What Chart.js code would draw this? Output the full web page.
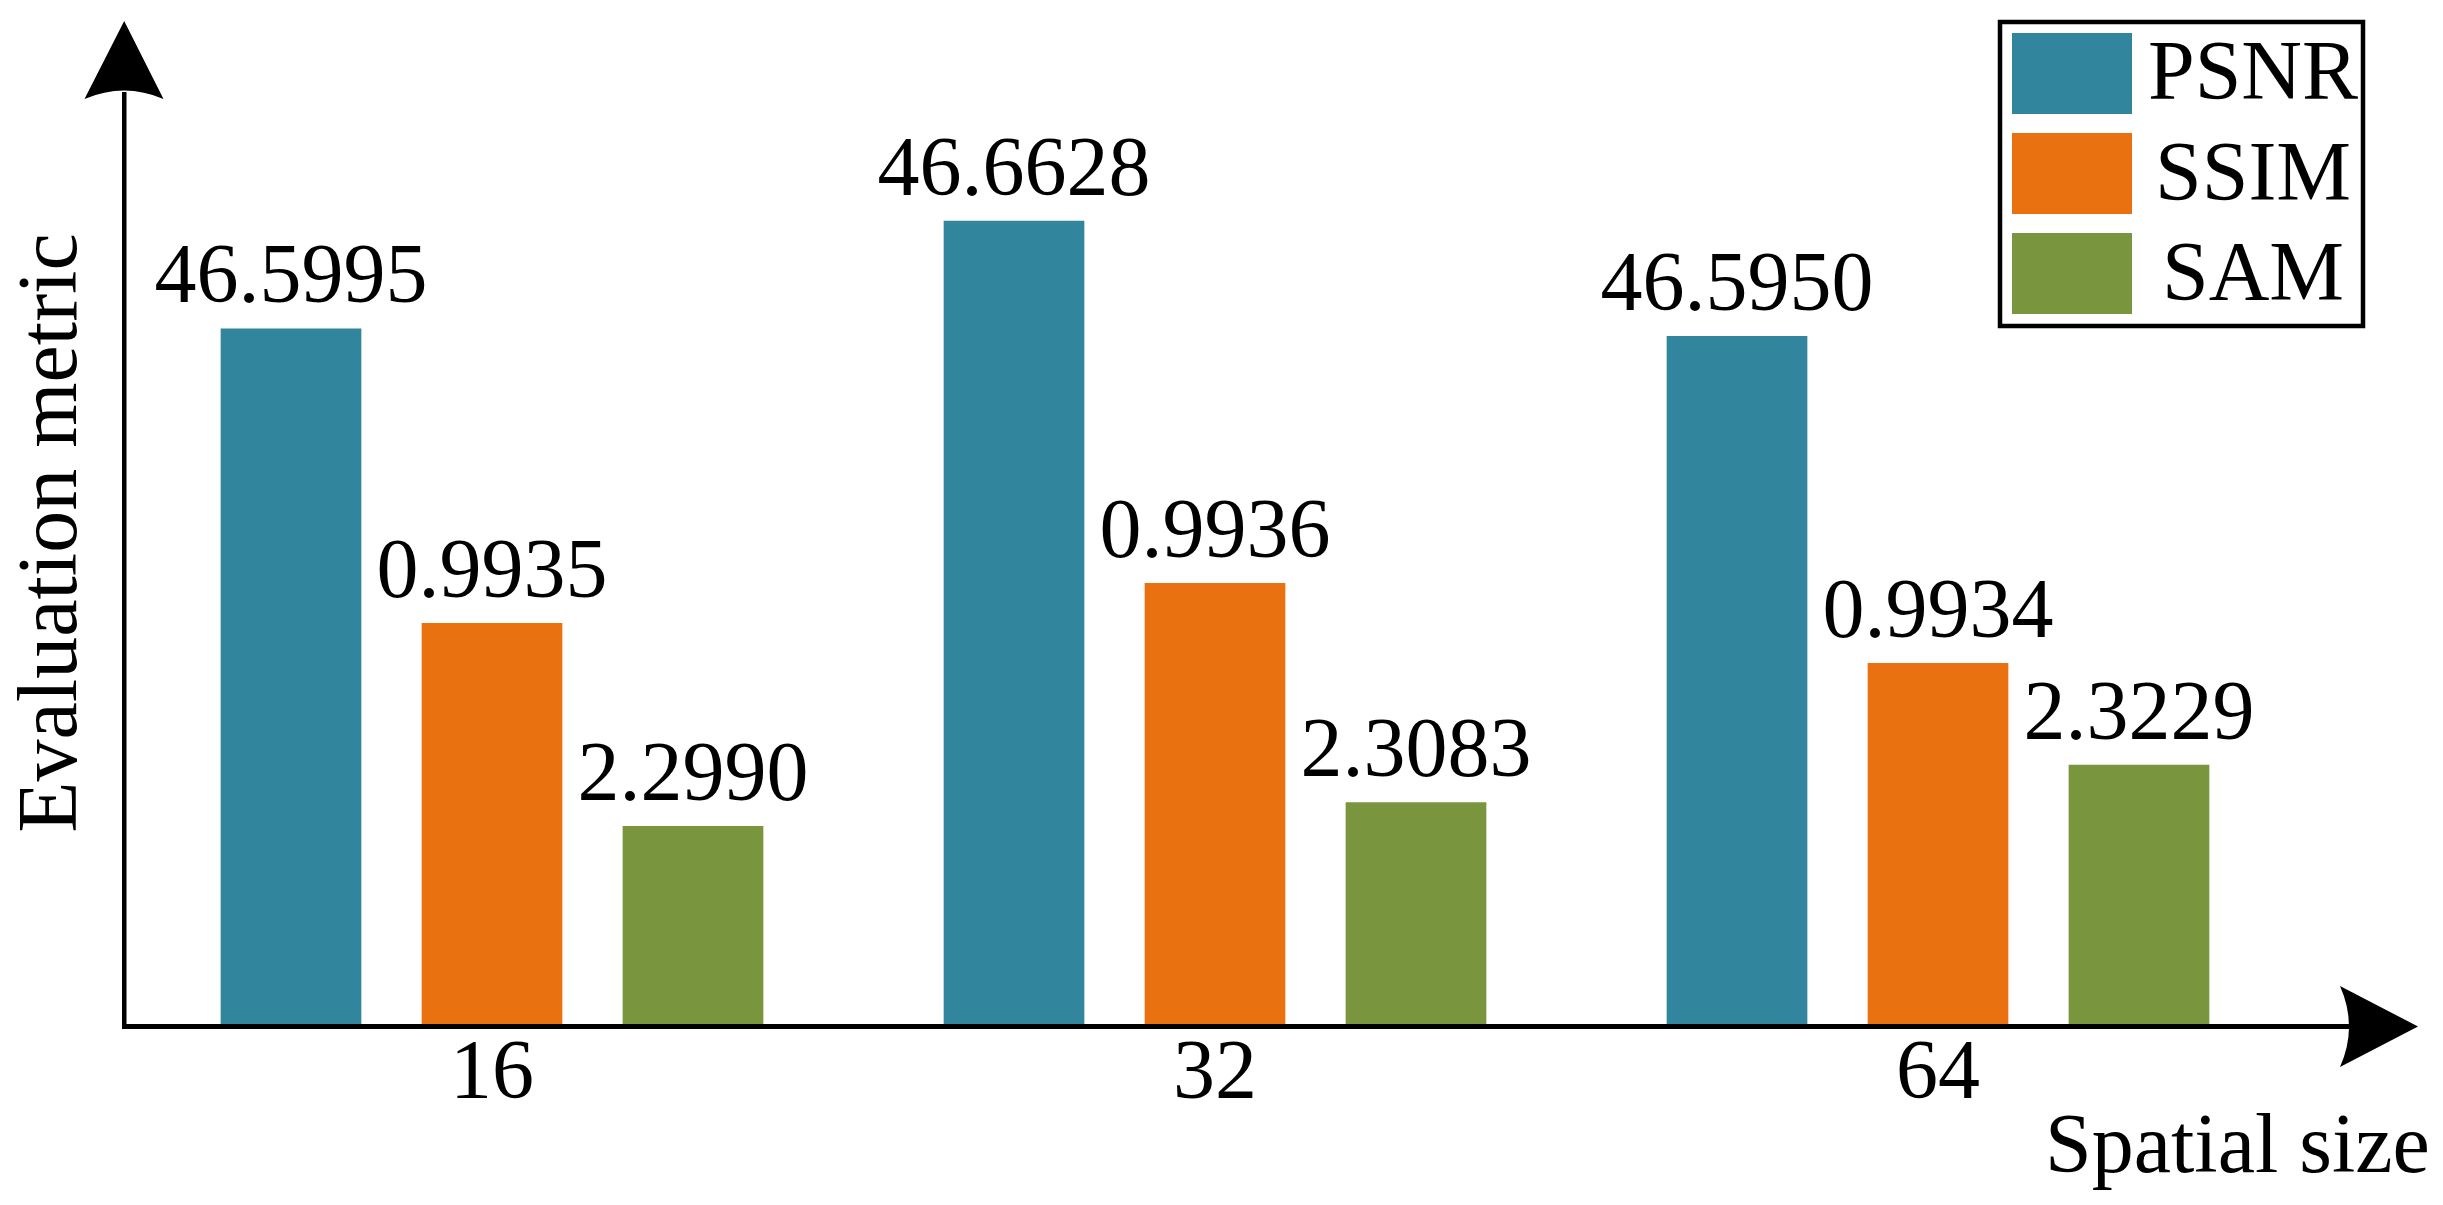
<!DOCTYPE html>
<html>
<head>
<meta charset="utf-8">
<script src="https://cdn.jsdelivr.net/npm/chart.js@4/dist/chart.umd.min.js"></script>
<style>
  html, body { margin: 0; padding: 0; background: #ffffff; }
  canvas { display: block; }
</style>
</head>
<body>
<canvas id="c" width="2443" height="1205" style="width:2443px;height:1205px"></canvas>
<script>
// ---- data ----
const categories = ['16', '32', '64'];
const seriesNames = ['PSNR', 'SSIM', 'SAM'];
const psnr = [46.5995, 46.6628, 46.5950];
const ssim = [0.9935, 0.9936, 0.9934];
const sam = [2.2990, 2.3083, 2.3229];
// each metric is drawn on its own (hidden) value axis
const psnrRange = [46.1910, 46.7313];
const ssimRange = [0.9924975, 0.9947975];
const samRange = [2.2215, 2.5815];
const xTitle = 'Spatial size';
const yTitle = 'Evaluation metric';

const colors = ['#31859C', '#E9710F', '#79963F'];
const FONT = "'Liberation Serif', 'Times New Roman', serif";

const annotate = {
  id: 'annotate',
  afterDraw(chart) {
    const ctx = chart.ctx;
    const area = chart.chartArea;
    const xs = chart.scales.x;
    const base = area.bottom;
    ctx.save();
    ctx.fillStyle = '#000';

    // y axis line + arrow
    ctx.fillRect(122, 92, 4.5, base + 5 - 92);
    ctx.beginPath();
    ctx.moveTo(124.2, 21);
    ctx.lineTo(163.5, 99);
    ctx.quadraticCurveTo(124.2, 82, 84.5, 99);
    ctx.closePath();
    ctx.fill();

    // x axis line + arrow
    ctx.fillRect(122, base, 2352 - 122, 5);
    const ay = base + 2.5;
    ctx.beginPath();
    ctx.moveTo(2418, ay);
    ctx.lineTo(2340, ay - 40.5);
    ctx.quadraticCurveTo(2358, ay, 2340, ay + 40.5);
    ctx.closePath();
    ctx.fill();

    // value labels above bars
    ctx.font = '84px ' + FONT;
    ctx.textAlign = 'center';
    ctx.textBaseline = 'alphabetic';
    chart.data.datasets.forEach((ds, i) => {
      const meta = chart.getDatasetMeta(i);
      meta.data.forEach((bar, j) => {
        ctx.fillText(ds.data[j].toFixed(4), bar.x, bar.y - 26);
      });
    });

    // category tick labels
    categories.forEach((c, i) => {
      ctx.fillText(c, xs.getPixelForValue(i), 1098);
    });

    // axis titles
    ctx.textAlign = 'left';
    ctx.fillText(xTitle, 2045, 1172);
    ctx.save();
    ctx.translate(76, 533);
    ctx.rotate(-Math.PI / 2);
    ctx.textAlign = 'center';
    ctx.fillText(yTitle, 0, 0);
    ctx.restore();

    // legend box
    ctx.lineWidth = 4.5;
    ctx.strokeStyle = '#000';
    ctx.strokeRect(2000, 22, 363, 304);
    ctx.textAlign = 'center';
    chart.data.datasets.forEach((ds, i) => {
      ctx.fillStyle = ds.backgroundColor;
      ctx.fillRect(2012, 33 + i * 100, 120, 81);
      ctx.fillStyle = '#000';
      ctx.fillText(ds.label, 2253, 99 + i * 100.5);
    });
    ctx.restore();
  }
};

new Chart(document.getElementById('c'), {
  type: 'bar',
  data: {
    labels: categories,
    datasets: [
      { label: seriesNames[0], data: psnr, yAxisID: 'yPSNR', backgroundColor: colors[0] },
      { label: seriesNames[1], data: ssim, yAxisID: 'ySSIM', backgroundColor: colors[1] },
      { label: seriesNames[2], data: sam, yAxisID: 'ySAM', backgroundColor: colors[2] }
    ]
  },
  options: {
    responsive: false,
    animation: false,
    devicePixelRatio: 1,
    layout: { padding: { left: 130.5, right: 143.5, top: 104, bottom: 181 } },
    datasets: { bar: { categoryPercentage: 0.834, barPercentage: 0.7, borderWidth: 0 } },
    scales: {
      x: { display: false, offset: true },
      yPSNR: { display: false, min: psnrRange[0], max: psnrRange[1] },
      ySSIM: { display: false, min: ssimRange[0], max: ssimRange[1] },
      ySAM: { display: false, min: samRange[0], max: samRange[1] }
    },
    plugins: { legend: { display: false }, tooltip: { enabled: false } }
  },
  plugins: [annotate]
});
</script>
</body>
</html>
